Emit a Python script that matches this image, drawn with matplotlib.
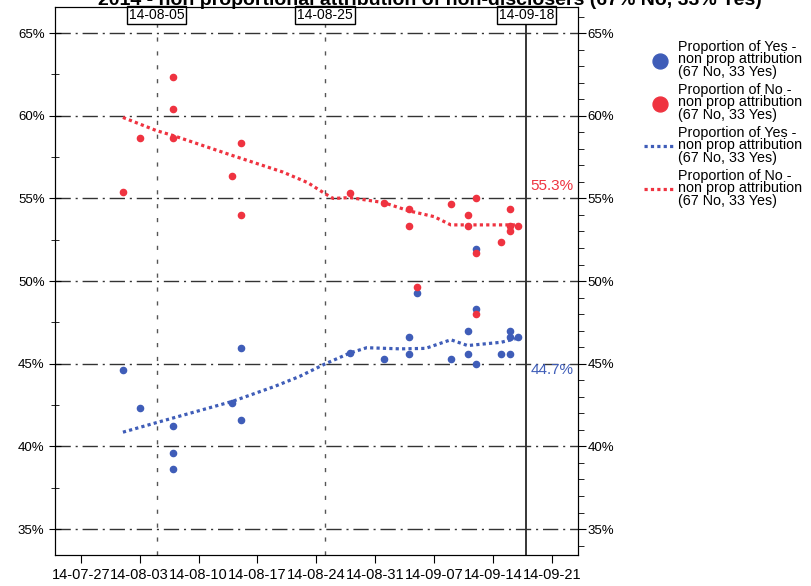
import numpy as np
import pandas as pd
import matplotlib
matplotlib.use('Agg')
import matplotlib.pyplot as plt
import matplotlib.dates as mdates
from matplotlib.ticker import MultipleLocator, FuncFormatter

plt.rcParams['font.family'] = ['Liberation Sans', 'DejaVu Sans']

# --- datos ---
fechas_si = ['2014-08-01', '2014-08-03', '2014-08-07', '2014-08-07', '2014-08-07',
             '2014-08-14', '2014-08-15', '2014-08-15', '2014-08-28', '2014-09-01',
             '2014-09-04', '2014-09-04', '2014-09-05', '2014-09-09', '2014-09-11',
             '2014-09-11', '2014-09-12', '2014-09-12', '2014-09-12', '2014-09-15',
             '2014-09-16', '2014-09-16', '2014-09-16', '2014-09-17']
prop_si = [44.6, 42.3, 41.25, 39.58, 38.63,
           42.6, 45.95, 41.6, 45.65, 45.29,
           46.62, 45.59, 49.28, 45.29, 46.99,
           45.59, 44.99, 51.94, 48.3, 45.59,
           45.59, 46.99, 46.62, 46.62]

fechas_no = fechas_si
prop_no = [55.38, 58.68, 62.35, 60.4, 58.68,
           56.36, 58.34, 54.02, 55.35, 54.73,
           54.37, 53.34, 49.66, 54.67, 54.0,
           53.34, 55.03, 51.7, 48.03, 52.37,
           54.37, 53.34, 53.03, 53.34]

# tendencias
fechas_tend_si = ['2014-08-01', '2014-08-05', '2014-08-14', '2014-08-19', '2014-08-22',
                  '2014-08-25', '2014-08-28', '2014-08-30', '2014-09-03', '2014-09-06',
                  '2014-09-09', '2014-09-11', '2014-09-15', '2014-09-17']
tend_si = [40.86, 41.44, 42.72, 43.62, 44.23,
           44.98, 45.65, 45.97, 45.9, 45.93,
           46.45, 46.1, 46.3, 46.55]

fechas_tend_no = ['2014-08-01', '2014-08-05', '2014-08-07', '2014-08-14', '2014-08-20',
                  '2014-08-23', '2014-08-25', '2014-08-26', '2014-08-28', '2014-09-01',
                  '2014-09-04', '2014-09-07', '2014-09-09', '2014-09-11', '2014-09-17']
tend_no = [59.9, 59.1, 58.8, 57.6, 56.6,
           55.95, 55.3, 55.0, 55.05, 54.75,
           54.25, 53.9, 53.4, 53.4, 53.4]

eventos = ['2014-08-05', '2014-08-25', '2014-09-18']
ultimo_si = 44.7
ultimo_no = 55.3

azul = '#3f5db8'
rojo = '#ef3340'
etiqueta = 'Proportion of %s -\nnon prop attribution\n(67 No, 33 Yes)'

fig = plt.figure(figsize=(8.12, 5.86), dpi=100)
ax = fig.add_axes([0.0677, 0.0529, 0.6441, 0.9357])

ax.scatter(pd.to_datetime(fechas_si), prop_si, s=20, color=azul, zorder=4,
           label=etiqueta % 'Yes')
ax.scatter(pd.to_datetime(fechas_no), prop_no, s=20, color=rojo, zorder=4,
           label=etiqueta % 'No')
ax.plot(pd.to_datetime(fechas_tend_si), tend_si, color=azul, lw=2.3,
        linestyle=(0, (1, 1)), zorder=3, label=etiqueta % 'Yes')
ax.plot(pd.to_datetime(fechas_tend_no), tend_no, color=rojo, lw=2.3,
        linestyle=(0, (1, 1)), zorder=3, label=etiqueta % 'No')

# lineas de referencia
ev = pd.to_datetime(eventos)
ax.axvline(ev[0], color='#555555', lw=1, linestyle=(0, (3, 7)), zorder=1)
ax.axvline(ev[1], color='#555555', lw=1, linestyle=(0, (3, 7)), zorder=1)
ax.axvline(ev[2], color='black', lw=1.1, zorder=1)
for d in ev:
    ax.text(d, 0.997, d.strftime('%y-%m-%d'), transform=ax.get_xaxis_transform(),
            ha='center', va='top', fontsize=10, zorder=5,
            bbox=dict(boxstyle='square,pad=0.15', fc='white', ec='black', lw=1))

for v in range(35, 70, 5):
    ax.axhline(v, color='#333333', lw=1, linestyle=(0, (11, 3.5, 1.5, 3.5)), zorder=1)

ax.text(pd.Timestamp('2014-09-18 12:00'), 55.73, '%.1f%%' % ultimo_no, color=rojo,
        fontsize=11, va='center', ha='left')
ax.text(pd.Timestamp('2014-09-18 12:00'), 44.64, '%.1f%%' % ultimo_si, color=azul,
        fontsize=11, va='center', ha='left')

ax.set_xlim(pd.Timestamp('2014-07-23 22:00'), pd.Timestamp('2014-09-24 03:00'))
ax.set_ylim(33.43, 66.6)
ax.xaxis.set_major_locator(mdates.WeekdayLocator(byweekday=mdates.SU))
ax.xaxis.set_major_formatter(mdates.DateFormatter('%y-%m-%d'))
pct = FuncFormatter(lambda y, _: '%d%%' % round(y))
ax.yaxis.set_major_locator(MultipleLocator(5))
ax.yaxis.set_minor_locator(MultipleLocator(2.5))
ax.yaxis.set_major_formatter(pct)
ax.tick_params(axis='x', direction='out', length=6, labelsize=10.5, pad=3)
ax.tick_params(axis='y', which='major', direction='inout', length=8, labelsize=9.5)
ax.tick_params(axis='y', which='minor', direction='inout', length=6)

ax2 = ax.twinx()
ax2.set_ylim(ax.get_ylim())
ax2.yaxis.set_major_locator(MultipleLocator(5))
ax2.yaxis.set_minor_locator(MultipleLocator(1))
ax2.yaxis.set_major_formatter(pct)
ax2.tick_params(axis='y', which='major', direction='out', length=6, labelsize=9.5, pad=1)
ax2.tick_params(axis='y', which='minor', direction='out', length=4)

fig.text(0.53, 1 - 5 / 586, '2014 - non proportional attribution of non-disclosers (67% No, 33% Yes)',
         ha='center', va='baseline', fontsize=14, fontweight='bold')

leg = fig.legend(*ax.get_legend_handles_labels(), loc='upper left', bbox_to_anchor=(0.786, 0.942),
                 frameon=False, fontsize=10.3, handlelength=2.2, handletextpad=0.15,
                 labelspacing=0.25, markerscale=2.4, borderaxespad=0)
for t in leg.get_texts():
    t.set_linespacing(0.88)

plt.savefig('out.png', dpi=100)
